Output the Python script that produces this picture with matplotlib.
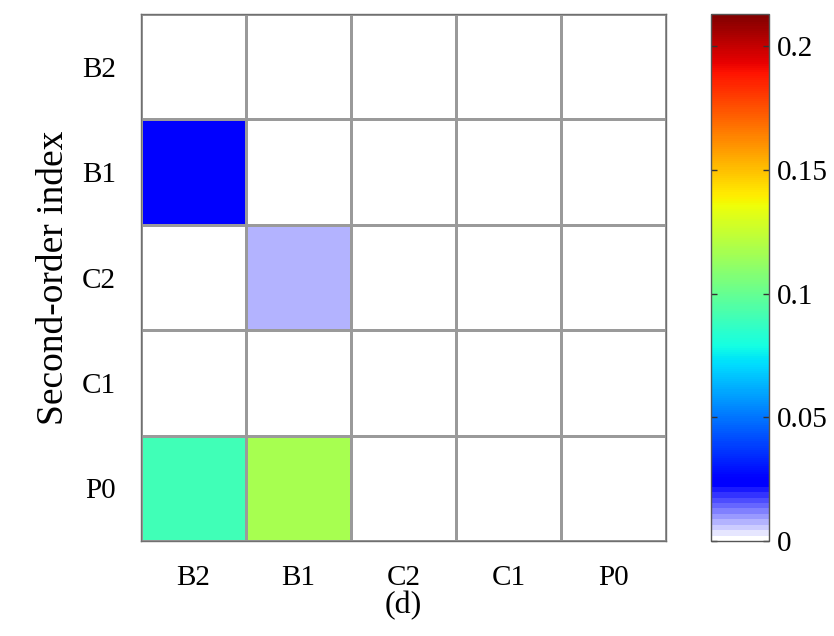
import numpy as np
import matplotlib
matplotlib.use("Agg")
import matplotlib.pyplot as plt
from matplotlib.colors import ListedColormap, Normalize

# ---- data ----
row_labels = ["B2", "B1", "C2", "C1", "P0"]   # top to bottom
col_labels = ["B2", "B1", "C2", "C1", "P0"]
row_B2 = [0.0, 0.0, 0.0, 0.0, 0.0]
row_B1 = [0.025, 0.0, 0.0, 0.0, 0.0]
row_C2 = [0.0, 0.0075, 0.0, 0.0, 0.0]
row_C1 = [0.0, 0.0, 0.0, 0.0, 0.0]
row_P0 = [0.090, 0.117, 0.0, 0.0, 0.0]
cbar_ticks = [0, 0.05, 0.1, 0.15, 0.2]
cbar_ticklabels = ["0", "0.05", "0.1", "0.15", "0.2"]
vmax = 0.213

data = np.array([row_B2, row_B1, row_C2, row_C1, row_P0])

# ---- colormap: stepped white->blue ramp + smooth jet from blue ----
nramp, rep = 10, 40
ramp = []
for i in range(nramp):
    a = i / nramp
    ramp += [(1 - a, 1 - a, 1.0, 1.0)] * rep
jet = plt.get_cmap("jet")
jet_part = [jet(t) for t in np.linspace(0.11, 1.0, 3480)]
cmap = ListedColormap(ramp + jet_part)

plt.rcParams["font.family"] = ["Liberation Serif", "DejaVu Serif"]

fig = plt.figure(figsize=(8.34, 6.36), dpi=100)
W, H = 834, 636
ax = fig.add_axes([141 / W, 1 - 541 / H, (666 - 141) / W, (541 - 14) / H])

nrows, ncols = data.shape
xe = np.arange(ncols + 1)
ye = np.arange(nrows + 1)
mesh = ax.pcolormesh(xe, ye, data, cmap=cmap, norm=Normalize(0, vmax),
                     edgecolors="#9a9a9a", linewidth=1.0)
ax.set_xlim(0, ncols)
ax.set_ylim(nrows, 0)
ax.set_xticks(np.arange(ncols) + 0.5)
ax.set_xticklabels(col_labels, fontsize=21)
ax.set_yticks(np.arange(nrows) + 0.5)
ax.set_yticklabels(row_labels, fontsize=21)
ax.tick_params(axis="y", length=0, pad=18)
ax.tick_params(axis="x", length=0, pad=17)
for s in ax.spines.values():
    s.set_color("#707070")
    s.set_linewidth(1.0)
ax.set_ylabel("Second-order index", fontsize=27, labelpad=8)
ax.set_xlabel("(d)", fontsize=23, labelpad=0)

cax = fig.add_axes([711 / W, 1 - 541 / H, (769 - 711) / W, (541 - 14) / H])
cb = fig.colorbar(mesh, cax=cax, ticks=cbar_ticks)
cb.set_ticklabels(cbar_ticklabels)
cax.tick_params(labelsize=21, direction="in", length=4, width=1, color="#333333",
                left=True, right=True, pad=6)
cb.outline.set_edgecolor("#555555")
cb.outline.set_linewidth(1.0)

fig.savefig("out.png", dpi=100)
